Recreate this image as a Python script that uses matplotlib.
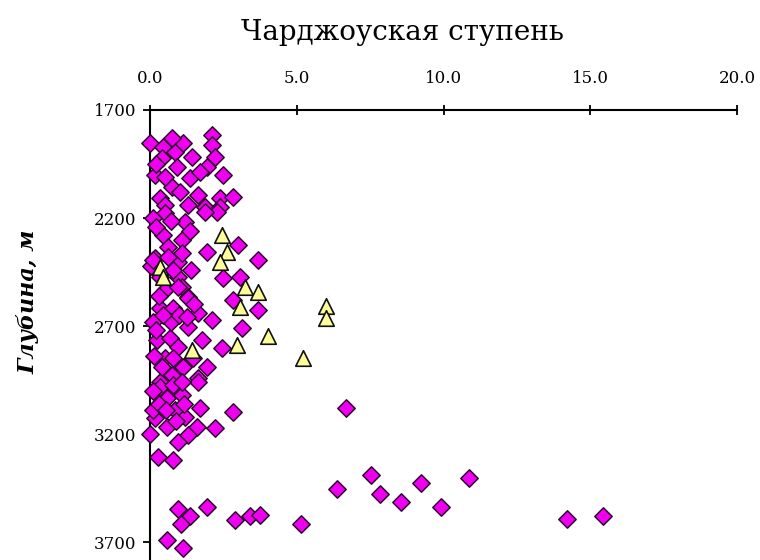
import matplotlib
matplotlib.use("Agg")
import matplotlib.pyplot as plt

plt.rcParams['font.family'] = ['DejaVu Serif', 'Liberation Serif']

title = "Чарджоуская ступень"
ylabel = "Глубина, м"
xticks = [0, 5, 10, 15, 20]
xtick_labels = ["0.0", "5.0", "10.0", "15.0", "20.0"]
yticks = [1700, 2200, 2700, 3200, 3700]

# magenta diamonds: (value, depth)
diam_x = [0.00, 0.44, 0.85, 0.41, 0.92, 0.17, 1.36, 0.75, 0.34, 1.02, 1.29, 0.51, 1.63,
          2.11, 2.11, 2.21, 1.94, 2.48, 1.70, 2.38, 2.82, 1.12, 1.43, 0.75, 1.87, 2.38,
          0.51, 1.19, 0.44, 1.09, 0.61, 0.17, 0.95, 1.94, 2.99, 3.67, 2.48, 3.06, 0.34,
          0.95, 0.51, 1.09, 1.29, 2.28, 1.87,
          0.34, 0.78, 1.29, 1.63, 2.11, 2.82, 3.67, 3.13, 0.24, 0.68, 1.29, 1.77, 0.95,
          2.45, 0.51, 1.94, 1.12, 0.75, 1.63, 0.34,
          0.34, 0.78, 1.63, 0.58, 1.09, 0.85, 1.70, 1.19, 0.17, 2.82, 0.58, 1.60, 1.29,
          2.21, 0.95, 0.27, 0.78, 0.10,
          6.67, 7.52, 6.36, 7.82, 9.25, 8.54, 10.88, 9.93, 14.20, 15.44, 5.14, 2.89,
          3.40, 3.74, 0.95, 1.36, 1.94, 1.05, 0.58, 1.12,
          0.10, 0.20, 0.05, 0.30, 0.10, 0.20, 0.15, 0.40, 0.10, 0.30, 0.00, 0.60, 0.80,
          0.70, 1.00, 0.50, 0.20, 1.10, 0.10,
          1.40, 1.25, 1.10, 1.45, 0.95, 1.15, 0.90, 0.55, 0.70, 1.35, 1.50, 0.45, 0.80]
diam_d = [1853, 1871, 1894, 1922, 1964, 2001, 2015, 2057, 2107, 2080, 2140, 2140, 2094,
          1816, 1862, 1918, 1964, 2001, 1987, 2107, 2103, 1853, 1918, 1830, 2149, 2149,
          2177, 2219, 2279, 2302, 2334, 2385, 2404, 2357, 2325, 2395, 2478, 2473, 2473,
          2473, 2533, 2519, 2566, 2172, 2172,
          2617, 2617, 2570, 2640, 2672, 2580, 2626, 2709, 2765, 2756, 2705, 2765, 2797,
          2802, 2848, 2890, 2890, 2927, 2941, 2959,
          2983, 2973, 2959, 3033, 3020, 3089, 3080, 3121, 3126, 3098, 3168, 3168, 3205,
          3172, 3237, 3307, 3320, 3089,
          3080, 3390, 3455, 3478, 3427, 3515, 3404, 3538, 3594, 3580, 3617, 3598,
          3580, 3575, 3547, 3580, 3538, 3617, 3691, 3728,
          2200, 2240, 2420, 2560, 2680, 2720, 2840, 2890, 3000, 3060, 3200, 2380, 2440,
          2680, 2650, 2010, 1950, 2360, 2395,
          2440, 2660, 2960, 2850, 2520, 3060, 3140, 3090, 2215, 2260, 2600, 2650, 2850]

# yellow triangles: (value, depth)
tri_x = [2.45, 2.62, 2.38, 0.34, 0.44, 3.23, 3.67, 3.06, 6.01, 6.01, 4.01, 2.96, 1.43, 5.21]
tri_d = [2279, 2357, 2404, 2427, 2473, 2519, 2543, 2612, 2607, 2664, 2746, 2788, 2811, 2850]

fig = plt.figure(figsize=(7.6, 5.6), dpi=100)
ax = fig.add_axes([150 / 760, 0.0, 587 / 760, 450 / 560])

ax.scatter(diam_x, diam_d, marker='D', s=78, facecolor='#F000F0',
           edgecolor='#300830', linewidth=1.1, zorder=3, clip_on=False)
ax.scatter(tri_x, tri_d, marker='^', s=125, facecolor='#FFFF99',
           edgecolor='#111111', linewidth=1.2, zorder=4, clip_on=False)

ax.set_xlim(0, 20)
ax.set_ylim(3783, 1700)
ax.xaxis.tick_top()
ax.set_xticks(xticks)
ax.set_xticklabels(xtick_labels)
ax.set_yticks(yticks)
ax.tick_params(axis='x', direction='inout', length=7, width=1.3, labelsize=12, pad=13)
ax.tick_params(axis='y', direction='out', length=5, width=1.3, labelsize=12, pad=5)
for s in ['right', 'bottom']:
    ax.spines[s].set_visible(False)
for s in ['top', 'left']:
    ax.spines[s].set_linewidth(1.5)

fig.text(402 / 760, 1 - 32 / 560, title, ha='center', va='center', fontsize=20)
fig.text(28 / 760, 1 - 302 / 560, ylabel, ha='center', va='center', rotation=90,
         fontsize=16, fontstyle='italic', fontweight='bold')

fig.savefig("out.png", dpi=100)
